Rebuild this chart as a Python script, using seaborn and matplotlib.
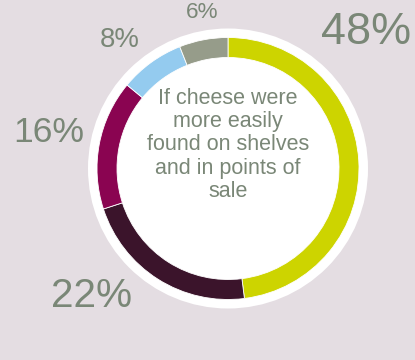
import matplotlib
matplotlib.use("Agg")
import matplotlib.pyplot as plt
import seaborn as sns
from matplotlib.patches import Circle

sns.set_theme(style="white")
plt.rcParams["font.family"] = ["Liberation Sans", "DejaVu Sans"]

# Share of answers, clockwise from 12 o'clock
labels = ["48%", "22%", "16%", "8%", "6%"]
values = [48, 22, 16, 8, 6]
colors = ["#cdd400", "#3b142b", "#8a0451", "#94cbef", "#969c8a"]
center_text = "If cheese were\nmore easily\nfound on shelves\nand in points of\nsale"

BG = "#e4dde2"
TXT = "#7a8777"

W, H = 415, 360
fig = plt.figure(figsize=(W / 100, H / 100), dpi=100, facecolor=BG)
ax = fig.add_axes([0, 0, 1, 1])
ax.set_facecolor(BG)

cx, cy = 228, H - 168.5

# White disc behind the ring
ax.add_patch(Circle((cx, cy), 140, facecolor="white", edgecolor="none", zorder=1))

ax.pie(values, colors=colors, startangle=90, counterclock=False,
       center=(cx, cy), radius=131, frame=True,
       wedgeprops=dict(width=20, edgecolor="white", linewidth=0.6, zorder=2))
ax.set_xlim(0, W)
ax.set_ylim(0, H)
ax.set_aspect("equal")
ax.axis("off")

# Percentage labels around the ring
label_pos = [(366, 32, 45), (92, 296, 40.5), (49, 133, 35.5), (120, 40, 27.5), (202, 12, 22.5)]
for lab, (x, y, px) in zip(labels, label_pos):
    ax.text(x, H - y, lab, fontsize=px * 0.72, color=TXT,
            ha="center", va="center", zorder=3)

ax.text(cx, H - 145, center_text, fontsize=15.5, color=TXT, ha="center",
        va="center", linespacing=1.14, zorder=3)

fig.savefig("out.png", dpi=100, facecolor=BG)
